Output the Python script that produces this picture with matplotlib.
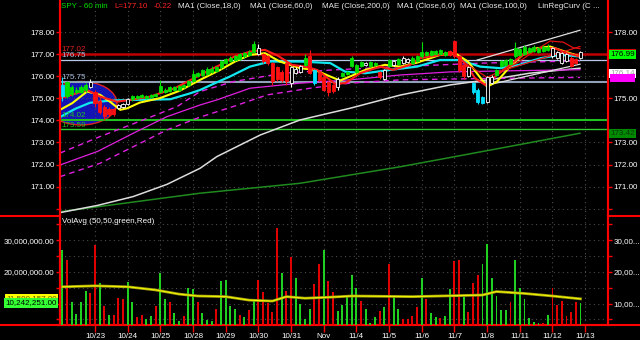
import numpy as np
import matplotlib.pyplot as plt
import matplotlib.transforms as mtransforms
from matplotlib.patches import Ellipse

plt.rcParams['font.family'] = ['Liberation Sans', 'DejaVu Sans']

# ---- data (hourly bars, 7 per session) ----
day_pos = [7, 14, 21, 28, 35, 42, 49, 56, 63, 70, 77, 84, 91, 98, 105, 112]
day_labels = ['10/23', '10/24', '10/25', '10/28', '10/29', '10/30', '10/31', 'Nov',
              '11/4', '11/5', '11/6', '11/7', '11/8', '11/11', '11/12', '11/13']

opens = [175.10, 175.10, 175.20, 175.30, 175.30, 175.40, 175.50,
         175.30, 174.90, 174.60, 174.50, 174.50, 174.55, 174.60,
         174.75, 174.95, 175.00, 175.05, 175.00, 175.05, 175.10,
         175.30, 175.30, 175.35, 175.40, 175.40, 175.50, 175.60,
         175.80, 176.00, 176.05, 176.10, 176.20, 176.25, 176.40,
         176.60, 176.70, 176.75, 176.80, 176.90, 176.95, 177.10,
         177.00, 177.00, 176.90, 176.60, 176.40, 176.20, 176.60,
         175.70, 176.15, 176.20, 176.50, 176.90, 176.30, 176.15,
         175.95, 175.75, 175.60, 175.50, 176.00, 176.10, 176.45,
         176.20, 176.45, 176.50, 176.45, 176.50, 176.20, 175.90,
         176.45, 176.50, 176.55, 176.60, 176.65, 176.60, 176.70,
         176.90, 176.95, 176.95, 177.00, 177.00, 176.95, 177.15,
         177.60, 176.90, 176.50, 176.00, 175.70, 175.40, 175.05,
         174.85, 175.70, 176.05, 176.45, 176.50, 176.55, 176.90,
         176.95, 177.00, 177.10, 177.15, 177.10, 177.15, 177.20,
         176.90, 176.85, 176.60, 176.70, 176.85, 176.80, 176.85]
closes = [175.60, 175.75, 175.50, 175.40, 175.50, 175.60, 175.75,
          174.80, 174.40, 174.20, 174.30, 174.30, 174.70, 174.75,
          174.95, 175.10, 175.10, 175.15, 175.10, 175.15, 175.20,
          175.55, 175.40, 175.50, 175.50, 175.55, 175.60, 175.80,
          176.10, 176.15, 176.30, 176.35, 176.35, 176.40, 176.70,
          176.80, 176.85, 176.90, 177.00, 177.05, 177.10, 177.45,
          177.30, 176.70, 176.60, 175.80, 175.90, 175.85, 175.80,
          176.40, 176.35, 176.45, 176.85, 176.15, 175.70, 175.85,
          175.40, 175.30, 175.35, 175.90, 176.15, 176.20, 176.85,
          176.50, 176.65, 176.60, 176.65, 176.60, 175.97, 176.30,
          176.75, 176.70, 176.80, 176.85, 176.80, 176.85, 176.90,
          177.10, 177.10, 177.15, 177.15, 177.20, 177.10, 176.95,
          176.90, 176.30, 176.00, 176.40, 175.30, 174.85, 174.80,
          175.95, 175.95, 176.30, 176.70, 176.75, 176.80, 177.30,
          177.25, 177.35, 177.30, 177.35, 177.30, 177.35, 177.35,
          177.30, 177.10, 177.05, 177.00, 176.45, 176.60, 177.10]
highs = [175.95, 175.80, 175.60, 175.50, 175.60, 175.70, 175.90,
         175.40, 175.00, 174.70, 174.60, 174.55, 174.75, 174.80,
         175.00, 175.15, 175.15, 175.20, 175.15, 175.20, 175.25,
         175.85, 175.45, 175.55, 175.55, 175.60, 175.65, 175.85,
         176.30, 176.20, 176.35, 176.40, 176.45, 176.45, 176.75,
         176.85, 176.90, 176.95, 177.05, 177.10, 177.20, 177.60,
         177.45, 177.05, 176.95, 176.65, 176.45, 176.30, 176.65,
         176.45, 176.40, 176.50, 177.00, 177.20, 176.35, 176.20,
         176.00, 175.80, 175.65, 175.95, 176.20, 176.25, 176.90,
         176.55, 176.70, 176.65, 176.70, 176.65, 176.25, 176.35,
         176.80, 176.75, 176.85, 176.90, 176.85, 176.90, 176.95,
         177.55, 177.15, 177.20, 177.20, 177.25, 177.15, 177.20,
         177.65, 176.95, 176.55, 176.45, 175.75, 175.45, 175.10,
         176.00, 176.05, 176.35, 176.75, 176.80, 176.85, 177.55,
         177.30, 177.40, 177.35, 177.40, 177.35, 177.40, 177.45,
         177.35, 177.15, 177.10, 177.05, 176.90, 176.85, 177.15]
lows = [174.90, 175.00, 175.10, 175.20, 175.25, 175.30, 175.45,
        174.60, 174.30, 174.00, 174.20, 174.20, 174.50, 174.55,
        174.70, 174.90, 174.95, 175.00, 174.95, 175.00, 175.05,
        175.25, 175.25, 175.30, 175.35, 175.35, 175.45, 175.55,
        175.75, 175.95, 176.00, 176.05, 176.15, 176.20, 176.35,
        176.55, 176.65, 176.70, 176.75, 176.85, 176.90, 177.05,
        176.95, 176.60, 176.50, 175.60, 175.80, 175.75, 175.60,
        175.50, 176.10, 176.15, 176.45, 176.10, 175.60, 175.80,
        175.35, 175.10, 175.25, 175.40, 175.95, 176.05, 176.40,
        176.15, 176.40, 176.45, 176.40, 176.45, 175.90, 175.85,
        176.40, 176.45, 176.50, 176.55, 176.60, 176.55, 176.65,
        176.85, 176.90, 176.90, 176.95, 176.95, 176.90, 176.90,
        176.85, 176.20, 175.90, 175.95, 175.20, 174.75, 174.75,
        174.80, 175.65, 176.00, 176.40, 176.45, 176.50, 176.85,
        176.90, 176.95, 177.05, 177.10, 177.05, 177.10, 177.15,
        176.85, 176.80, 176.55, 176.65, 176.40, 176.55, 176.80]
candle_col = list('cgggggw' 'rrrrrww' 'wgggggg' 'ggggggg' 'ggggggg' 'ggggggg'
                  'wrrrrrr' 'wwwgrcr' 'rrrwggg' 'ggwggrw' 'gwgwwgg' 'ggggggr'
                  'rrrwccc' 'wwggggg' 'ggggggg' 'wwwwrrw')

volume = [26.9, 23.7, 10.4, 6.7, 10.4, 14.0, 13.2, 28.5, 16.4, 9.3, 6.4, 6.4, 11.7, 11.5,
          16.9, 10.4, 5.9, 6.4, 5.0, 6.1, 9.3, 19.6, 11.5, 10.4, 6.9, 4.5, 6.1, 14.8,
          14.6, 10.4, 6.9, 4.8, 4.5, 8.2, 17.1, 17.4, 9.2, 8.3, 6.4, 5.7, 8.0, 11.1,
          17.4, 13.6, 10.3, 7.3, 34.0, 19.6, 14.0, 24.8, 18.2, 9.9, 5.1, 8.2, 16.2, 22.5,
          26.9, 17.2, 13.6, 7.7, 9.6, 12.7, 19.0, 14.8, 10.8, 8.3, 4.0, 5.7, 7.7, 8.8,
          22.4, 12.2, 8.2, 5.1, 5.1, 6.1, 8.8, 18.2, 11.5, 7.1, 5.7, 5.6, 6.1, 14.6,
          23.5, 23.8, 12.2, 7.3, 16.4, 19.0, 22.5, 28.8, 18.2, 12.4, 8.0, 8.0, 10.6, 23.8,
          14.8, 11.5, 5.6, 4.1, 3.8, 3.8, 6.4, 14.8, 9.6, 10.9, 6.1, 7.4, 10.4, 10.1]
vol_col = list('grggggrrgrgrrrggrrggrggrggrggr'
               'gggrggggrgrgrrrrrgrrggggrrgrr'
               'gggggrgggrgrggrrrrgrggrggrrgr'
               'rrggggggrggggggrgrrrrrrgg')

volavg_x = [0, 7, 14, 20, 25, 29, 35, 40, 45, 48, 52, 57, 62, 75, 87, 90, 93, 99, 105, 111]
volavg_y = [15.3, 15.6, 15.3, 14.3, 13.0, 12.4, 12.2, 11.1, 10.8, 12.2, 11.7, 12.0,
            12.4, 12.2, 12.6, 12.7, 13.8, 13.2, 12.4, 11.5]

ma6_x = [-0.5, 5.3, 8.1, 11.7, 14.5, 18.8, 24.1, 29.5, 33.8, 36.6, 40.2, 43.4, 46.2,
         49.2, 52.0, 54.6, 58.4, 60.6, 63.8, 68.1, 70.9, 74.5, 76.6, 80.9, 83.7, 86.3,
         88.4, 90.6, 92.7, 95.9, 99.1, 102.4, 105.6, 108.1, 110.9]
ma6_y = [175.00, 175.38, 175.08, 174.85, 174.93, 175.08, 175.46, 176.06, 176.52, 176.87,
         177.12, 177.20, 176.93, 176.52, 176.44, 176.29, 175.66, 175.69, 176.14, 176.44,
         176.29, 176.52, 176.82, 176.97, 177.05, 176.60, 175.92, 175.61, 175.99, 176.52,
         177.05, 177.27, 177.27, 177.05, 176.90]
ma18_x = [-0.5, 2.1, 5.3, 8.1, 10.2, 12.4, 13.9, 16.6, 20.9, 25.2, 29.5, 33.8, 37.0,
          40.2, 43.4, 46.6, 50.9, 54.1, 57.4, 59.5, 61.6, 64.9, 69.1, 72.4, 76.0, 80.9,
          84.1, 86.9, 89.1, 91.0, 93.1, 95.9, 98.6, 101.6, 104.5, 107.7, 110.9]
ma18_y = [174.48, 174.78, 175.31, 175.16, 174.85, 174.48, 174.55, 174.81, 175.01, 175.35,
          175.84, 176.29, 176.67, 176.97, 177.05, 176.67, 176.37, 176.29, 175.99, 175.81,
          175.99, 176.29, 176.52, 176.44, 176.62, 176.97, 177.05, 176.67, 176.06, 175.53,
          175.76, 176.44, 176.97, 177.27, 177.35, 177.12, 176.90]
ma60_x = [-0.5, 2.7, 5.9, 10.2, 14.5, 23.1, 27.4, 29.5, 32.7, 35.9, 40.2, 44.5, 50.9,
          57.4, 60.6, 64.9, 70.2, 76.0, 80.9, 85.2, 89.5, 93.8, 97.9, 102.4, 106.6, 110.9]
ma60_y = [174.15, 174.52, 174.80, 174.90, 174.93, 174.96, 175.23, 175.38, 175.69, 175.99,
          176.44, 176.67, 176.67, 176.60, 176.21, 176.14, 176.29, 176.44, 176.74, 176.74,
          176.44, 176.37, 176.52, 176.82, 176.97, 176.90]
ma100_x = [-0.5, 7.6, 15.2, 22.4, 29.5, 33.1, 40.2, 50.9, 61.6, 72.4, 83.1, 95.9, 110.9]
ma100_y = [171.98, 172.60, 173.42, 174.17, 174.70, 174.93, 175.46, 175.69, 175.84,
           176.06, 176.20, 176.25, 176.30]
mae_up_x = [-0.5, 8.1, 17.3, 24.6, 29.5, 36.6, 47.3, 58.0, 72.4, 90.0, 110.9]
mae_up_y = [172.52, 173.27, 174.02, 174.63, 175.31, 175.76, 176.14, 176.29, 176.44,
            176.60, 176.70]
mae_lo_x = [-0.5, 8.1, 15.2, 22.4, 29.5, 36.6, 43.9, 53.1, 61.6, 72.4, 90.0, 110.9]
mae_lo_y = [171.45, 172.06, 172.81, 173.57, 174.15, 174.63, 175.16, 175.46, 175.69,
            175.84, 175.90, 175.95]
ma200_x = [-0.5, 7.6, 15.2, 22.4, 29.5, 33.1, 42.4, 50.9, 61.6, 72.4, 83.1, 93.8, 100.1, 110.9]
ma200_y = [169.82, 170.15, 170.55, 171.10, 171.83, 172.36, 173.34, 174.02, 174.55,
           175.15, 175.61, 175.92, 176.14, 176.37]
long_x = [-0.5, 15.2, 29.5, 50.9, 72.4, 93.8, 110.9]
long_y = [169.86, 170.30, 170.70, 171.15, 171.90, 172.74, 173.42]
lrc_x = [86.3, 91.0, 97.4, 100.8, 104.5, 107.3, 109.4, 110.9]
lrc_y = [176.60, 175.95, 176.60, 177.10, 177.60, 177.55, 177.30, 177.25]
lrc2_x = [95.0, 110.9]
lrc2_y = [176.30, 177.35]
chan_up_x = [88.9, 110.9]
chan_up_y = [176.74, 178.09]
chan_lo_x = [91.0, 110.9]
chan_lo_y = [175.60, 176.55]

levels = [177.02, 176.75, 175.75, 174.02, 173.59]
level_col = ['#c00000', '#b8c8e8', '#8fa0b8', '#20c020', '#30d030']
level_lw = [1.8, 0.9, 1.5, 1.5, 1.0]
level_txt = ['#e02020', '#a8c0e0', '#a8c0e0', '#20c020', '#20c020']

fs = 5.8
W, H = 640, 340
fig = plt.figure(figsize=(6.4, 3.4), dpi=100, facecolor='black')
ax = fig.add_axes([60 / W, 1 - 215.5 / H, 548 / W, 215.5 / H])
axv = fig.add_axes([60 / W, 1 - 325 / H, 548 / W, (325 - 215.5) / H], sharex=ax)
dots = (0, (1, 3))


def style(a):
    a.set_facecolor('black')
    for s in ['top', 'bottom']:
        a.spines[s].set_visible(False)
    for s in ['left', 'right']:
        a.spines[s].set_color('#ff0000')
        a.spines[s].set_linewidth(1.5)
    a.tick_params(colors='#ff0000', labelcolor='white', labelsize=fs, length=3, width=1, pad=1)


# ---- price panel ----
style(ax)
ax.set_xlim(-0.5, 116.9)
ax.set_ylim(169.69, 179.46)
ax.set_yticks(range(170, 179))
ax.set_yticklabels([''] + ['%.2f' % v for v in range(171, 179)])
ax.set_xticks(day_pos)
ax.tick_params(axis='x', length=0, labelbottom=False)
ax.grid(True, color='#4a4a4a', linestyle=dots, lw=0.8)

ax.add_patch(Ellipse((4.0, 174.78), 15.4, 1.97, fc='#1414b4', ec='#e02020', lw=1, zorder=1))

for lv, c, lw, tc in zip(levels, level_col, level_lw, level_txt):
    ax.axhline(lv, color=c, lw=lw, zorder=2)
    ax.text(-0.3, lv + 0.04, '%.2f' % lv, color=tc, fontsize=fs, va='bottom', ha='left', zorder=6)

ax.plot(long_x, long_y, color='#1f8a1f', lw=1.1, zorder=3)
ax.plot(ma200_x, ma200_y, color='#dcdcdc', lw=1.1, zorder=3)
ax.plot(ma100_x, ma100_y, color='#e020e0', lw=0.9, zorder=3)
ax.plot(mae_up_x, mae_up_y, color='#e020e0', lw=1.0, ls=(0, (4, 3)), zorder=3)
ax.plot(mae_lo_x, mae_lo_y, color='#e020e0', lw=1.0, ls=(0, (4, 3)), zorder=3)
ax.plot(chan_up_x, chan_up_y, color='#e0e0e0', lw=0.9, zorder=3)
ax.plot(chan_lo_x, chan_lo_y, color='#e0e0e0', lw=0.9, zorder=3)
ax.plot(ma60_x, ma60_y, color='#10e8f0', lw=1.6, zorder=3)
ax.plot(ma18_x, ma18_y, color='#ffff00', lw=1.5, zorder=3)
ax.plot(ma6_x, ma6_y, color='#ff1a1a', lw=1.5, zorder=3)
ax.plot(lrc_x, lrc_y, color='#e01010', lw=0.9, zorder=3)
ax.plot(lrc2_x, lrc2_y, color='#e01010', lw=0.9, zorder=3)

idx = np.arange(len(closes))
o = np.array(opens)
c = np.array(closes)
cmap = {'g': '#00e000', 'r': '#ff1010', 'w': '#ffffff', 'c': '#00e0ff'}
edge = [cmap[k] for k in candle_col]
face = ['black' if k == 'w' else cmap[k] for k in candle_col]
ax.vlines(idx, lows, highs, colors=edge, lw=0.8, zorder=4)
ax.bar(idx, np.maximum(np.abs(c - o), 0.03), bottom=np.minimum(o, c), width=0.65,
       color=face, edgecolor=edge, lw=0.6, zorder=5)

axr = ax.twinx()
style(axr)
axr.set_ylim(ax.get_ylim())
axr.set_yticks([170, 171, 172, 173, 175, 178])
axr.set_yticklabels(['', '171.00', '172.00', '173.00', '175.00', '178.00'])

tr = mtransforms.blended_transform_factory(axr.transAxes, axr.transData)
box_kw = dict(ha='left', va='center', fontsize=fs, transform=tr, clip_on=False, zorder=10)
axr.text(1.004, 177.02, '177.02', color='#ff0000',
         bbox=dict(boxstyle='square,pad=0.12', fc='#d00000', ec='none'), **box_kw)
axr.text(1.004, 176.99, '176.99', color='black',
         bbox=dict(boxstyle='square,pad=0.12', fc='#00ff00', ec='none'), **box_kw)
axr.text(1.004, 176.14, '176.14', color='#a0a0a0',
         bbox=dict(boxstyle='square,pad=0.12', fc='white', ec='none'), **box_kw)
axr.text(1.004, 175.93, '175.93', color='#ff00ff',
         bbox=dict(boxstyle='square,pad=0.05', fc='#ff00ff', ec='none'), **box_kw)
axr.text(1.004, 173.42, '173.42', color='#0a3a0a',
         bbox=dict(boxstyle='square,pad=0.12', fc='#008a00', ec='none'), **box_kw)

# red separators outside plot area
ax.plot([-60 / 548, 0], [0, 0], transform=ax.transAxes, color='#ff0000', lw=1.5, clip_on=False)
ax.plot([1, 1 + 32 / 548], [0, 0], transform=ax.transAxes, color='#ff0000', lw=1.5, clip_on=False)

# ---- volume panel ----
style(axv)
axv.spines['bottom'].set_visible(True)
axv.spines['bottom'].set_color('#ff0000')
axv.spines['bottom'].set_linewidth(1.5)
vol = np.array(volume) * 1e6
axv.set_ylim(3.25e6, 37.8e6)
vt = [5e6, 10e6, 15e6, 20e6, 25e6, 30e6, 35e6]
axv.set_yticks(vt)
axv.set_yticklabels(['', '', '', '20,000,000.00', '', '30,000,000.00', ''])
axv.set_xticks(day_pos)
axv.set_xticklabels(day_labels)
axv.tick_params(axis='x', length=5, pad=1)
axv.grid(True, color='#4a4a4a', linestyle=dots, lw=0.8)
vcol = ['#20d020' if k == 'g' else '#e00000' for k in vol_col]
axv.bar(idx, vol, width=0.4, color=vcol, zorder=3)
va = np.array(volavg_y) * 1e6
axv.plot(volavg_x, va, color='#9a9a10', lw=2.0, zorder=4)
axv.plot(volavg_x, va, color='#f0f000', lw=0.9, zorder=5)
axv.text(0.003, 0.975, 'VolAvg (50,50,green,Red)', transform=axv.transAxes,
         color='white', fontsize=fs, va='top', ha='left')
axv.plot([-60 / 548, 1 + 32 / 548], [0, 0], transform=axv.transAxes, color='#ff0000',
         lw=1.5, clip_on=False)

axvr = axv.twinx()
style(axvr)
axvr.set_ylim(axv.get_ylim())
axvr.set_yticks(vt)
axvr.set_yticklabels(['', '10,00...', '', '20,00...', '', '30,00...', ''])

trv = mtransforms.blended_transform_factory(axvr.transAxes, axvr.transData)
axvr.text(-0.006, 11.59e6, '11,590,157.00', ha='right', va='center', fontsize=fs,
          color='#606000', transform=trv, clip_on=False, zorder=10,
          bbox=dict(boxstyle='square,pad=0.15', fc='#ffff00', ec='none'))
axvr.text(-0.006, 10.24e6, '10,242,251.00', ha='right', va='center', fontsize=fs,
          color='black', transform=trv, clip_on=False, zorder=11,
          bbox=dict(boxstyle='square,pad=0.15', fc='#33ff33', ec='none'))

# ---- header ----
header = [(61, 'SPY - 60 min', '#00e000'), (114, 'L=177.10', '#ff2020'),
          (154, '-0.22', '#ff2020'), (178, 'MA1 (Close,18,0)', '#e8e8e8'),
          (250, 'MA1 (Close,60,0)', '#e8e8e8'), (322, 'MAE (Close,200,0)', '#e8e8e8'),
          (397, 'MA1 (Close,6,0)', '#e8e8e8'), (460, 'MA1 (Close,100,0)', '#e8e8e8'),
          (538, 'LinRegCurv (C ...', '#e8e8e8')]
for x, s, col in header:
    fig.text(x / W, 1 - 6.5 / H, s, color=col, fontsize=fs, va='center', ha='left')

fig.savefig('out.png', dpi=100, facecolor='black')
